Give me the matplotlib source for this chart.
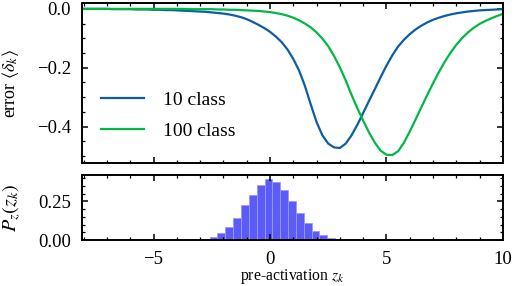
import numpy as np
import matplotlib
matplotlib.use('Agg')
import matplotlib.pyplot as plt
from matplotlib.ticker import MultipleLocator

plt.rcParams['font.family'] = ['Liberation Serif', 'DejaVu Serif']
plt.rcParams['mathtext.fontset'] = 'stix'
plt.rcParams['font.size'] = 11
plt.rcParams['axes.linewidth'] = 1.4
plt.rcParams['xtick.direction'] = 'in'
plt.rcParams['ytick.direction'] = 'in'
plt.rcParams['xtick.top'] = True
plt.rcParams['ytick.right'] = True

# pre-activation grid for the error curves (-8 .. 10, step 0.25)
z = np.arange(-8, 10.001, 0.25)
# mean error, 10 classes
err_10 = [0.000, 0.000, 0.000, 0.000, 0.000, -0.001, -0.001, -0.001,
          -0.001, -0.002, -0.002, -0.002, -0.003, -0.003, -0.004, -0.004,
          -0.005, -0.006, -0.007, -0.008, -0.009, -0.010, -0.012, -0.014,
          -0.016, -0.019, -0.023, -0.028, -0.035, -0.044, -0.054, -0.065,
          -0.078, -0.094, -0.113, -0.138, -0.170, -0.210, -0.262, -0.325,
          -0.385, -0.430, -0.458, -0.471, -0.473, -0.458, -0.430, -0.394,
          -0.354, -0.313, -0.273, -0.232, -0.193, -0.158, -0.128, -0.105,
          -0.086, -0.070, -0.057, -0.046, -0.037, -0.030, -0.024, -0.019,
          -0.015, -0.012, -0.009, -0.007, -0.005, -0.004, -0.003, -0.002,
          -0.001]
# mean error, 100 classes
err_100 = [0.000, 0.000, 0.000, 0.000, 0.000, 0.000, 0.000, 0.000,
           0.000, 0.000, 0.000, 0.000, 0.000, 0.000, 0.000, 0.000,
           0.000, 0.000, -0.001, -0.001, -0.001, -0.001, -0.001, -0.002,
           -0.002, -0.003, -0.003, -0.004, -0.005, -0.006, -0.007, -0.009,
           -0.011, -0.014, -0.018, -0.023, -0.030, -0.039, -0.050, -0.063,
           -0.080, -0.101, -0.127, -0.160, -0.199, -0.243, -0.292, -0.338,
           -0.380, -0.420, -0.455, -0.482, -0.496, -0.497, -0.484, -0.455,
           -0.417, -0.376, -0.334, -0.293, -0.253, -0.215, -0.180, -0.149,
           -0.122, -0.099, -0.080, -0.064, -0.051, -0.041, -0.032, -0.024,
           -0.017]

# histogram of pre-activations
bin_edges = [-2.93, -2.593, -2.256, -1.919, -1.582, -1.245, -0.908, -0.571, -0.234,
             0.103, 0.44, 0.777, 1.114, 1.451, 1.788, 2.125, 2.462, 2.799]
density = [0.009, 0.017, 0.044, 0.083, 0.142, 0.227, 0.294, 0.357, 0.397,
           0.377, 0.327, 0.255, 0.174, 0.109, 0.059, 0.031, 0.011]

fig = plt.figure(figsize=(5.14, 2.86), dpi=100)
ax1 = fig.add_axes([0.1595, 0.4301, 0.819, 0.5594])
ax2 = fig.add_axes([0.1595, 0.1608, 0.819, 0.2273])

ax1.plot(z, err_10, color='#0C5DA5', lw=1.6, label='10 class')
ax1.plot(z, err_100, color='#00B945', lw=1.6, label='100 class')
ax1.set_xlim(-8.07, 10)
ax1.set_ylim(-0.524, 0.02)
ax1.yaxis.set_major_locator(MultipleLocator(0.2))
ax1.yaxis.set_minor_locator(MultipleLocator(0.05))
ax1.xaxis.set_major_locator(MultipleLocator(5))
ax1.xaxis.set_minor_locator(MultipleLocator(1))
ax1.tick_params(labelbottom=False)
ax1.set_ylabel(r'error $\langle\delta_k\rangle$', fontsize=13)
ax1.yaxis.set_label_coords(-0.145, 0.5)
ax1.legend(loc='center left', bbox_to_anchor=(0.045, 0.297), frameon=False,
           fontsize=14, handlelength=2.2, handletextpad=1.0, labelspacing=0.7,
           borderpad=0, borderaxespad=0)

left = np.array(bin_edges[:-1])
widths = np.diff(bin_edges)
ax2.bar(left, density, width=widths, align='edge', color='#5b5bf7',
        edgecolor='#9a9aff', linewidth=0.6)
ax2.set_xlim(-8.07, 10)
ax2.set_ylim(0, 0.422)
ax2.xaxis.set_major_locator(MultipleLocator(5))
ax2.xaxis.set_minor_locator(MultipleLocator(1))
ax2.yaxis.set_major_locator(MultipleLocator(0.25))
ax2.yaxis.set_minor_locator(MultipleLocator(0.05))
ax2.set_xlabel(r'pre-activation $z_k$', fontsize=11.3)
ax2.xaxis.set_label_coords(0.5, -0.42)
ax2.set_ylabel(r'$P_z(z_k)$', fontsize=14.5)
ax2.yaxis.set_label_coords(-0.14, 0.5)

for ax in (ax1, ax2):
    ax.tick_params(which='major', length=4.5, width=1.1, labelsize=13.5, pad=8)
    ax.tick_params(which='minor', length=2.2, width=0.9)

fig.savefig('out.png', dpi=100)
